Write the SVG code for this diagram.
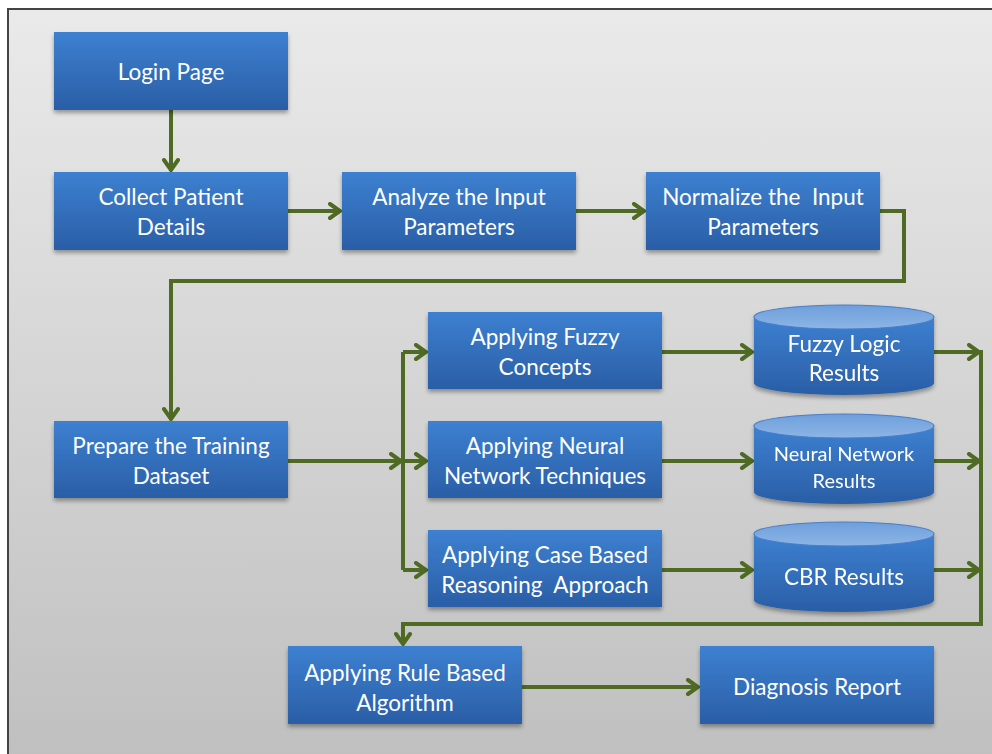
<svg xmlns="http://www.w3.org/2000/svg" width="992" height="754" viewBox="0 0 992 754">
<defs>
<linearGradient id="bg" x1="0" y1="0" x2="0" y2="1">
<stop offset="0" stop-color="#eaeaea"/>
<stop offset="1" stop-color="#bfbfbf"/>
</linearGradient>
<linearGradient id="box" x1="0" y1="0" x2="0" y2="1">
<stop offset="0" stop-color="#3d80d1"/>
<stop offset="1" stop-color="#2a5ea6"/>
</linearGradient>
<linearGradient id="cylTop" x1="0" y1="0" x2="0" y2="1">
<stop offset="0" stop-color="#6e9fdc"/>
<stop offset="1" stop-color="#8db5e6"/>
</linearGradient>
<filter id="sh" x="-10%" y="-10%" width="120%" height="130%">
<feDropShadow dx="0" dy="3" stdDeviation="2" flood-color="#000" flood-opacity="0.35"/>
</filter>
<marker id="ah" markerUnits="userSpaceOnUse" markerWidth="16" markerHeight="18" refX="13" refY="9" orient="auto">
<path d="M3,2 L13,9 L3,16" fill="none" stroke="#4f6a23" stroke-width="4" stroke-linejoin="miter" stroke-linecap="round"/>
</marker>
</defs>
<style>
.b{fill:url(#box);filter:url(#sh)}
.t{font-family:Lato,"Open Sans",sans-serif;font-size:22.5px;fill:#fff;text-anchor:middle;white-space:pre}
.ts{font-size:20px}
.c{fill:none;stroke:#4f6a23;stroke-width:4}
.cyl{fill:url(#box)}
.ctop{fill:url(#cylTop);stroke:#4a7fc8;stroke-width:1.2}
</style>
<rect x="8" y="9" width="990" height="760" fill="url(#bg)" stroke="#444" stroke-width="2"/>

<g id="connectors">
<path class="c" d="M171,110 V170" marker-end="url(#ah)"/>
<path class="c" d="M288,211 H340" marker-end="url(#ah)"/>
<path class="c" d="M576,211 H644" marker-end="url(#ah)"/>
<path class="c" d="M880,211 H904 V281 H171 V419" marker-end="url(#ah)"/>
<path class="c" d="M288,461 H401" marker-end="url(#ah)"/>
<path class="c" d="M403,352 V570"/>
<path class="c" d="M403,352 H426" marker-end="url(#ah)"/>
<path class="c" d="M403,461 H426" marker-end="url(#ah)"/>
<path class="c" d="M403,570 H426" marker-end="url(#ah)"/>
<path class="c" d="M662,352 H752" marker-end="url(#ah)"/>
<path class="c" d="M662,461 H752" marker-end="url(#ah)"/>
<path class="c" d="M662,570 H752" marker-end="url(#ah)"/>
<path class="c" d="M934,352 H979" marker-end="url(#ah)"/>
<path class="c" d="M934,461 H979" marker-end="url(#ah)"/>
<path class="c" d="M934,570 H979" marker-end="url(#ah)"/>
<path class="c" d="M981,350 V624 H403 V644" marker-end="url(#ah)"/>
<path class="c" d="M522,687 H698" marker-end="url(#ah)"/>
</g>

<g id="login"><rect class="b" x="54" y="32" width="234" height="78"/><text class="t" x="171" y="80">Login Page</text></g>
<g id="collect"><rect class="b" x="54" y="172" width="234" height="78"/><text class="t" x="171" y="205">Collect Patient</text><text class="t" x="171" y="235">Details</text></g>
<g id="analyze"><rect class="b" x="342" y="172" width="234" height="78"/><text class="t" x="459" y="205">Analyze the Input</text><text class="t" x="459" y="235">Parameters</text></g>
<g id="normalize"><rect class="b" x="646" y="172" width="234" height="78"/><text class="t" x="763" y="205">Normalize the  Input</text><text class="t" x="763" y="235">Parameters</text></g>
<g id="prepare"><rect class="b" x="54" y="421" width="234" height="77"/><text class="t" x="171" y="454">Prepare the Training</text><text class="t" x="171" y="484">Dataset</text></g>
<g id="fuzzy"><rect class="b" x="428" y="312" width="234" height="77"/><text class="t" x="545" y="345">Applying Fuzzy</text><text class="t" x="545" y="375">Concepts</text></g>
<g id="neural"><rect class="b" x="428" y="421" width="234" height="77"/><text class="t" x="545" y="454">Applying Neural</text><text class="t" x="545" y="484">Network Techniques</text></g>
<g id="case"><rect class="b" x="428" y="530" width="234" height="77"/><text class="t" x="545" y="563">Applying Case Based</text><text class="t" x="545" y="593">Reasoning  Approach</text></g>

<g id="fuzzyres" filter="url(#sh)">
<path class="cyl" d="M754,317 V383 A90,12 0 0 0 934,383 V317 Z"/>
<ellipse class="ctop" cx="844" cy="317" rx="90" ry="12"/>
<text class="t" x="844" y="352">Fuzzy Logic</text><text class="t" x="844" y="381">Results</text>
</g>
<g id="neuralres" filter="url(#sh)">
<path class="cyl" d="M754,426 V492 A90,12 0 0 0 934,492 V426 Z"/>
<ellipse class="ctop" cx="844" cy="426" rx="90" ry="12"/>
<text class="t ts" x="844" y="461">Neural Network</text><text class="t ts" x="844" y="488">Results</text>
</g>
<g id="cbrres" filter="url(#sh)">
<path class="cyl" d="M754,534 V600 A90,12 0 0 0 934,600 V534 Z"/>
<ellipse class="ctop" cx="844" cy="534" rx="90" ry="12"/>
<text class="t" x="844" y="585">CBR Results</text>
</g>

<g id="rule"><rect class="b" x="288" y="646" width="234" height="78"/><text class="t" x="405" y="681">Applying Rule Based</text><text class="t" x="405" y="711">Algorithm</text></g>
<g id="diagnosis"><rect class="b" x="700" y="646" width="234" height="78"/><text class="t" x="817" y="695">Diagnosis Report</text></g>
</svg>
